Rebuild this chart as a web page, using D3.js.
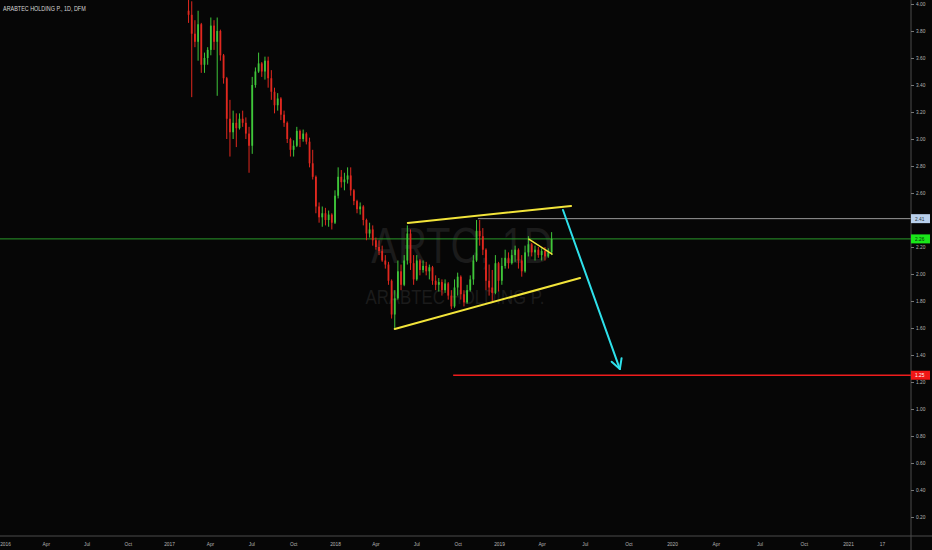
<!DOCTYPE html>
<html>
<head>
<meta charset="utf-8">
<script src="https://cdn.jsdelivr.net/npm/d3@7"></script>
<style>
  html, body { margin: 0; padding: 0; background: #060606; overflow: hidden; }
  svg { display: block; font-family: "Liberation Sans", Arial, sans-serif; }
</style>
</head>
<body>
<svg id="chart" width="932" height="550"></svg>
<script>
// ARABTEC HOLDING P. (ARTC, DFM) — one candle per week, Monday dates
const firstWeek = "2017-02-13";
const openPrices = [
  3.95,3.92,3.78,3.72,3.85,3.55,3.60,
  3.66,3.84,3.72,3.80,3.62,3.45,3.15,3.05,3.12,3.08,3.15,3.12,3.04,
  2.95,3.40,3.50,3.56,3.50,3.58,3.45,3.35,3.25,3.30,3.18,3.12,3.00,
  2.92,2.95,3.06,3.00,3.04,2.98,2.82,2.72,2.50,2.42,2.45,2.40,2.44,
  2.38,2.58,2.72,2.68,2.70,2.73,2.62,2.54,2.48,2.50,2.40,2.30,2.33,
  2.25,2.20,2.17,2.10,2.07,1.95,1.70,1.82,2.02,1.92,2.10,2.30,2.08,
  1.96,2.10,2.03,2.06,2.02,2.05,1.95,1.92,1.94,1.88,1.93,1.84,1.76,
  1.90,1.98,1.85,1.79,1.88,1.96,2.10,2.32,2.28,2.18,1.95,1.90,1.86,2.08,
  1.95,2.06,2.12,2.08,2.14,2.18,2.10,2.02,2.16,2.22,2.16,2.18,
  2.14,2.17,2.13,2.16
];
const highPrices = [
  4.08,4.02,3.88,3.95,3.86,3.64,3.68,
  3.90,3.88,3.90,3.81,3.63,3.46,3.29,3.21,3.19,3.19,3.21,3.16,3.09,
  3.46,3.53,3.64,3.57,3.61,3.61,3.51,3.38,3.34,3.31,3.21,3.13,3.01,
  2.99,3.09,3.07,3.07,3.05,3.01,2.92,2.73,2.53,2.50,2.49,2.47,2.45,
  2.62,2.79,2.77,2.75,2.79,2.79,2.63,2.55,2.53,2.51,2.41,2.38,2.36,
  2.27,2.25,2.21,2.14,2.09,1.96,1.88,2.10,2.07,2.14,2.36,2.33,2.14,
  2.14,2.11,2.10,2.09,2.07,2.06,1.99,1.97,1.96,1.96,1.94,1.88,1.96,
  2.01,1.99,1.88,1.92,1.99,2.14,2.40,2.40,2.34,2.19,2.07,2.03,2.14,2.09,
  2.12,2.18,2.16,2.18,2.21,2.19,2.14,2.21,2.28,2.23,2.21,2.20,
  2.19,2.20,2.19,2.31
];
const lowPrices = [
  3.86,3.31,3.68,3.58,3.49,3.49,3.55,
  3.62,3.66,3.32,3.58,3.41,3.00,2.87,3.00,2.94,3.07,3.09,3.00,2.75,
  2.89,3.38,3.49,3.46,3.44,3.38,3.29,3.19,3.21,3.14,3.09,2.97,2.87,
  2.87,2.94,2.94,2.98,2.96,2.79,2.70,2.45,2.38,2.35,2.36,2.35,2.33,
  2.37,2.56,2.64,2.62,2.67,2.58,2.51,2.45,2.44,2.36,2.25,2.27,2.21,
  2.18,2.14,2.09,2.04,1.92,1.67,1.60,1.81,1.88,1.91,2.07,2.03,1.92,
  1.95,1.99,2.01,1.99,1.96,1.92,1.88,1.87,1.84,1.86,1.81,1.74,1.75,
  1.84,1.81,1.76,1.78,1.87,1.92,2.09,2.21,2.14,1.88,1.84,1.80,1.85,1.87,
  1.92,2.04,2.04,2.07,2.09,2.04,1.98,2.01,2.13,2.13,2.10,2.12,
  2.10,2.10,2.12,2.14
];
const closePrices = [
  3.92,3.78,3.72,3.85,3.55,3.60,3.66,
  3.84,3.72,3.80,3.62,3.45,3.15,3.05,3.12,3.08,3.15,3.12,3.04,2.95,
  3.40,3.50,3.56,3.50,3.58,3.45,3.35,3.25,3.30,3.18,3.12,3.00,2.92,
  2.95,3.06,3.00,3.04,2.98,2.82,2.72,2.50,2.42,2.45,2.40,2.44,2.38,
  2.58,2.72,2.68,2.70,2.73,2.62,2.54,2.48,2.50,2.40,2.30,2.33,2.25,
  2.20,2.17,2.10,2.07,1.95,1.70,1.82,2.02,1.92,2.10,2.30,2.08,1.96,
  2.10,2.03,2.06,2.02,2.05,1.95,1.92,1.94,1.88,1.93,1.84,1.76,1.90,
  1.98,1.85,1.79,1.88,1.96,2.10,2.32,2.28,2.18,1.95,1.90,1.86,2.08,1.95,
  2.06,2.12,2.08,2.14,2.18,2.10,2.02,2.16,2.22,2.16,2.18,2.14,
  2.17,2.13,2.16,2.26
];

// Price scale ticks
const priceTicks = [0.2,0.4,0.6,0.8,1.0,1.2,1.4,1.6,1.8,2.0,2.2,2.4,2.6,2.8,3.0,3.2,3.4,3.6,3.8,4.0];

// Time scale ticks
const timeTickDates = [
  "2016-01-01","2016-04-01","2016-07-01","2016-10-01",
  "2017-01-01","2017-04-01","2017-07-01","2017-10-01",
  "2018-01-01","2018-04-01","2018-07-01","2018-10-01",
  "2019-01-01","2019-04-01","2019-07-01","2019-10-01",
  "2020-01-01","2020-04-01","2020-07-01","2020-10-01",
  "2021-01-01","2021-02-17"
];
const timeTickLabels = [
  "2016","Apr","Jul","Oct","2017","Apr","Jul","Oct","2018","Apr","Jul","Oct",
  "2019","Apr","Jul","Oct","2020","Apr","Jul","Oct","2021","17"
];

// Horizontal levels: resistance ray, last price, target
const levelValues = [2.41, 2.26, 1.25];
const levelStartDates = ["2018-11-15", null, "2018-09-21"];

// Drawn trend lines [startDate, startPrice, endDate, endPrice]
const channelUpper = ["2018-06-12", 2.378, "2019-06-02", 2.504];
const channelLower = ["2018-05-14", 1.593, "2019-06-21", 1.970];
const flagLine     = ["2019-03-05", 2.259, "2019-04-23", 2.148];
const targetArrow  = ["2019-05-16", 2.474, "2019-09-13", 1.296];

const parse = d3.timeParse("%Y-%m-%d");
const W = 932, H = 550;
const axisX = 911, axisY = 536;

const svg = d3.select("#chart");
svg.append("rect").attr("width", W).attr("height", H).attr("fill", "#060606");

// time axis: year anchors of the bar-index based time scale
const x = d3.scaleTime()
  .domain(["2016-01-01","2017-01-01","2018-01-01","2019-01-01","2020-01-01","2021-01-01","2021-02-17"].map(parse))
  .range([5, 169, 335, 499, 672, 848, 882]);
const y = d3.scaleLinear().domain([0, 4]).range([544, 4]);

const bars = closePrices.map((c, i) => ({
  date: d3.timeDay.offset(parse(firstWeek), 7 * i),
  o: openPrices[i], h: highPrices[i], l: lowPrices[i], c: c
}));

// watermark
const wm = svg.append("g").attr("fill", "#1b1b1b").attr("text-anchor", "middle");
wm.append("text").attr("x", 462).attr("y", 263).attr("font-size", 50).text("ARTC, 1D");
wm.append("text").attr("x", 455).attr("y", 304).attr("font-size", 21).text("ARABTEC HOLDING P.");

const plot = svg.append("g");
plot.append("clipPath").attr("id", "clip").append("rect")
  .attr("x", 0).attr("y", 0).attr("width", axisX).attr("height", axisY);
const clipped = plot.append("g").attr("clip-path", "url(#clip)");

// level lines
const levelColors = ["#9a9a9a", "#2a9a2a", "#ee1c1c"];
const levelWidths = [1, 1, 1.5];
levelValues.forEach((v, i) => {
  const x0 = levelStartDates[i] ? x(parse(levelStartDates[i])) : 0;
  clipped.append("line")
    .attr("x1", x0).attr("x2", axisX)
    .attr("y1", y(v)).attr("y2", y(v))
    .attr("stroke", levelColors[i]).attr("stroke-width", levelWidths[i]);
});

// candles
const up = "#3fc63a", down = "#e0281f";
const candle = clipped.append("g").selectAll("g").data(bars).join("g");
candle.append("line")
  .attr("x1", d => x(d.date)).attr("x2", d => x(d.date))
  .attr("y1", d => y(d.h)).attr("y2", d => y(d.l))
  .attr("stroke", d => d.c >= d.o ? up : down).attr("stroke-width", 1);
candle.append("rect")
  .attr("x", d => x(d.date) - 0.9).attr("width", 1.8)
  .attr("y", d => y(Math.max(d.o, d.c)))
  .attr("height", d => Math.max(1, Math.abs(y(d.o) - y(d.c))))
  .attr("fill", d => d.c >= d.o ? up : down);

// trend lines
function seg(s, color, w) {
  return clipped.append("line")
    .attr("x1", x(parse(s[0]))).attr("y1", y(s[1]))
    .attr("x2", x(parse(s[2]))).attr("y2", y(s[3]))
    .attr("stroke", color).attr("stroke-width", w).attr("stroke-linecap", "round");
}
seg(channelUpper, "#f2e43a", 2);
seg(channelLower, "#f2e43a", 2);
seg(flagLine, "#f2e43a", 1.5);
seg(targetArrow, "#2ee0ea", 2);

// arrow head at the target end
{
  const x1 = x(parse(targetArrow[0])), y1 = y(targetArrow[1]);
  const x2 = x(parse(targetArrow[2])), y2 = y(targetArrow[3]);
  const ang = Math.atan2(y2 - y1, x2 - x1), len = 11, spread = 0.5;
  const head = d3.path();
  head.moveTo(x2 - len * Math.cos(ang - spread), y2 - len * Math.sin(ang - spread));
  head.lineTo(x2, y2);
  head.lineTo(x2 - len * Math.cos(ang + spread), y2 - len * Math.sin(ang + spread));
  clipped.append("path").attr("d", head.toString()).attr("fill", "none")
    .attr("stroke", "#2ee0ea").attr("stroke-width", 2)
    .attr("stroke-linecap", "round").attr("stroke-linejoin", "round");
}

// price axis
const axisColor = "#4a4a4a", labelColor = "#b4b4b4";
svg.append("line").attr("x1", axisX).attr("x2", axisX).attr("y1", 0).attr("y2", H)
  .attr("stroke", axisColor).attr("stroke-width", 1);
const yAxis = svg.append("g").attr("transform", `translate(${axisX},0)`)
  .call(d3.axisRight(y).tickValues(priceTicks).tickFormat(d3.format(".2f")).tickSize(3).tickPadding(2));
yAxis.select(".domain").remove();
yAxis.selectAll(".tick line").attr("stroke", "#777");
yAxis.selectAll(".tick text").attr("fill", labelColor).attr("font-size", 6)
  .attr("font-family", "Liberation Sans, Arial, sans-serif");

// time axis
svg.append("line").attr("x1", 0).attr("x2", W).attr("y1", axisY).attr("y2", axisY)
  .attr("stroke", axisColor).attr("stroke-width", 1);
const xAxis = svg.append("g").attr("transform", `translate(0,${axisY})`)
  .call(d3.axisBottom(x).tickValues(timeTickDates.map(parse))
    .tickFormat((d, i) => timeTickLabels[i]).tickSize(0).tickPadding(6));
xAxis.select(".domain").remove();
xAxis.selectAll(".tick text").attr("fill", labelColor).attr("font-size", 6)
  .attr("font-family", "Liberation Sans, Arial, sans-serif");

// price labels on the axis
const tagFill = ["#b9d0ec", "#19e619", "#f01616"];
const tagText = ["#2a3440", "#0b2a0b", "#ffffff"];
levelValues.forEach((v, i) => {
  const g = svg.append("g").attr("transform", `translate(${axisX},${y(v)})`);
  g.append("rect").attr("x", 0).attr("y", -4.5).attr("width", 19).attr("height", 9)
    .attr("fill", tagFill[i]);
  g.append("text").attr("x", 4).attr("y", 2.2).attr("font-size", 6)
    .attr("fill", tagText[i]).text(d3.format(".2f")(v));
});

// chart title
svg.append("text").attr("x", 3).attr("y", 10.5).attr("font-size", 6.8)
  .attr("fill", "#d6d6d6").text("ARABTEC HOLDING P., 1D, DFM");

// narrow type, as the platform renders it
svg.selectAll("text").each(function () {
  const w = this.getComputedTextLength();
  if (w > 0) d3.select(this).attr("textLength", w * 0.8).attr("lengthAdjust", "spacingAndGlyphs");
});
</script>
</body>
</html>
